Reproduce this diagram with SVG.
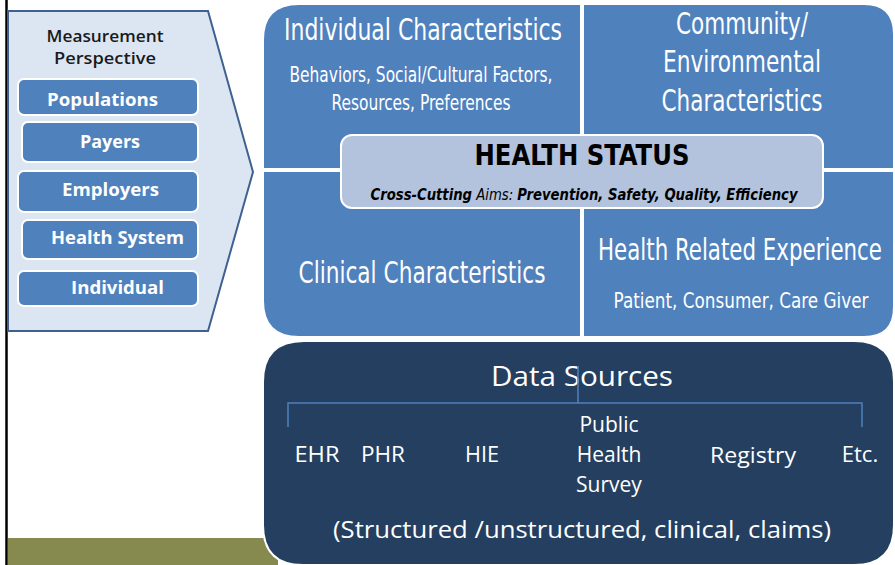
<svg xmlns="http://www.w3.org/2000/svg" width="895" height="565" viewBox="0 0 895 565">
<style>
.btn{fill:#4F81BD;stroke:#FFFFFF;stroke-width:2}
.btxt{font-family:"Open Sans","Noto Sans",sans-serif;font-weight:bold;font-size:18px;fill:#FFFFFF;text-anchor:middle}
.quad{fill:#4F81BD;stroke:#FFFFFF;stroke-width:2}
.cond{font-family:"DejaVu Sans Condensed","Liberation Sans Narrow",sans-serif;fill:#FFFFFF;text-anchor:middle;font-weight:500}
.h1{font-size:30px}
.h2{font-size:21px}
.ds{font-family:"Open Sans","Noto Sans",sans-serif;fill:#FFFFFF;text-anchor:middle}
.tree{fill:none;stroke:#4F81BD;stroke-width:1.5}
.mp{font-family:"Open Sans","Noto Sans",sans-serif;font-weight:600;font-size:17px;fill:#1A1A1A;text-anchor:middle}
</style>
<rect x="0" y="0" width="895" height="565" fill="#FFFFFF"/>
<rect x="8" y="538" width="270" height="27" fill="#878A4F"/>
<line x1="6.5" y1="0" x2="6.5" y2="565" stroke="#000000" stroke-width="2.5"/>

<g id="perspective">
<polygon points="8,11 208,11 253,172 208,331 8,331" fill="#DCE6F2" stroke="#3F6190" stroke-width="2"/>
<text class="mp" x="105" y="42" textLength="117" lengthAdjust="spacingAndGlyphs">Measurement</text>
<text class="mp" x="105" y="64" textLength="102" lengthAdjust="spacingAndGlyphs">Perspective</text>
</g>
<g id="populations"><rect class="btn" x="18" y="79" width="180" height="36" rx="6"/><text class="btxt" x="102.5" y="106" textLength="111" lengthAdjust="spacingAndGlyphs">Populations</text></g>
<g id="payers"><rect class="btn" x="22" y="122" width="176" height="40" rx="6"/><text class="btxt" x="110" y="148" textLength="60" lengthAdjust="spacingAndGlyphs">Payers</text></g>
<g id="employers"><rect class="btn" x="18" y="171" width="180" height="41" rx="6"/><text class="btxt" x="110.5" y="196" textLength="97" lengthAdjust="spacingAndGlyphs">Employers</text></g>
<g id="health-system"><rect class="btn" x="22" y="220" width="176" height="39" rx="6"/><text class="btxt" x="117.5" y="244" textLength="133" lengthAdjust="spacingAndGlyphs">Health System</text></g>
<g id="individual"><rect class="btn" x="18" y="271" width="180" height="35" rx="6"/><text class="btxt" x="117.5" y="294" textLength="93" lengthAdjust="spacingAndGlyphs">Individual</text></g>

<g id="individual-characteristics">
<path class="quad" d="M263,169 V40 Q263,4 299,4 H581 V169 Z"/>
<text class="cond h1" x="423" y="40" textLength="278" lengthAdjust="spacingAndGlyphs">Individual Characteristics</text>
<text class="cond h2" x="421" y="82" textLength="263" lengthAdjust="spacingAndGlyphs">Behaviors, Social/Cultural Factors,</text>
<text class="cond h2" x="421" y="110" textLength="179" lengthAdjust="spacingAndGlyphs">Resources, Preferences</text>
</g>
<g id="community-characteristics">
<path class="quad" d="M583,169 V4 H864 Q894,4 894,34 V169 Z"/>
<text class="cond h1" x="742" y="34" textLength="132" lengthAdjust="spacingAndGlyphs">Community/</text>
<text class="cond h1" x="742" y="72" textLength="158" lengthAdjust="spacingAndGlyphs">Environmental</text>
<text class="cond h1" x="742" y="111" textLength="161" lengthAdjust="spacingAndGlyphs">Characteristics</text>
</g>
<g id="clinical-characteristics">
<path class="quad" d="M263,171 H581 V337 H299 Q263,337 263,301 Z"/>
<text class="cond h1" x="422" y="283" textLength="247" lengthAdjust="spacingAndGlyphs">Clinical Characteristics</text>
</g>
<g id="health-related-experience">
<path class="quad" d="M583,171 H894 V307 Q894,337 864,337 H583 Z"/>
<text class="cond h1" x="0" y="0" transform="translate(740 260) scale(0.62 1)" textLength="458" lengthAdjust="spacingAndGlyphs">Health Related Experience</text>
<text class="cond h2" x="0" y="0" transform="translate(741 308) scale(0.7 1)" textLength="364" lengthAdjust="spacingAndGlyphs">Patient, Consumer, Care Giver</text>
</g>

<g id="health-status">
<rect x="341" y="135" width="482" height="73" rx="11" fill="#B3C3DD" stroke="#FFFFFF" stroke-width="2"/>
<text x="582" y="165" font-family="DejaVu Sans Condensed,Liberation Sans Narrow,sans-serif" font-weight="900" font-size="29" fill="#000000" text-anchor="middle" textLength="215" lengthAdjust="spacingAndGlyphs">HEALTH STATUS</text>
<text x="584" y="200" font-family="DejaVu Sans Condensed,Liberation Sans Narrow,sans-serif" font-size="15" font-style="italic" fill="#000000" text-anchor="middle" textLength="427" lengthAdjust="spacingAndGlyphs"><tspan font-weight="bold">Cross-Cutting</tspan> Aims:  <tspan font-weight="bold">Prevention, Safety, Quality, Efficiency</tspan></text>
</g>

<g id="data-sources">
<path d="M263,382 Q263,341 304,341 H854 Q894,341 894,381 V525 Q894,565 854,565 H303 Q263,565 263,525 Z" fill="#243F60" stroke="#FFFFFF" stroke-width="2"/>
<text class="ds" x="582" y="386" font-size="27" textLength="182" lengthAdjust="spacingAndGlyphs">Data Sources</text>
<text class="ds" x="582" y="538" font-size="23" textLength="498" lengthAdjust="spacingAndGlyphs">(Structured /unstructured, clinical, claims)</text>
</g>
<g id="connectors">
<path class="tree" d="M578,366 V403 M288,427 V403 H862 V427"/>
</g>
<g id="ds-items">
<text class="ds" x="317" y="462" font-size="21" textLength="45" lengthAdjust="spacingAndGlyphs">EHR</text>
<text class="ds" x="383" y="462" font-size="21" textLength="44" lengthAdjust="spacingAndGlyphs">PHR</text>
<text class="ds" x="482" y="462" font-size="21" textLength="34" lengthAdjust="spacingAndGlyphs">HIE</text>
<text class="ds" x="609" y="432" font-size="21">Public</text>
<text class="ds" x="609" y="462" font-size="21">Health</text>
<text class="ds" x="609" y="492" font-size="21">Survey</text>
<text class="ds" x="753" y="463" font-size="21" textLength="86" lengthAdjust="spacingAndGlyphs">Registry</text>
<text class="ds" x="860" y="462" font-size="22">Etc.</text>
</g>
</svg>
